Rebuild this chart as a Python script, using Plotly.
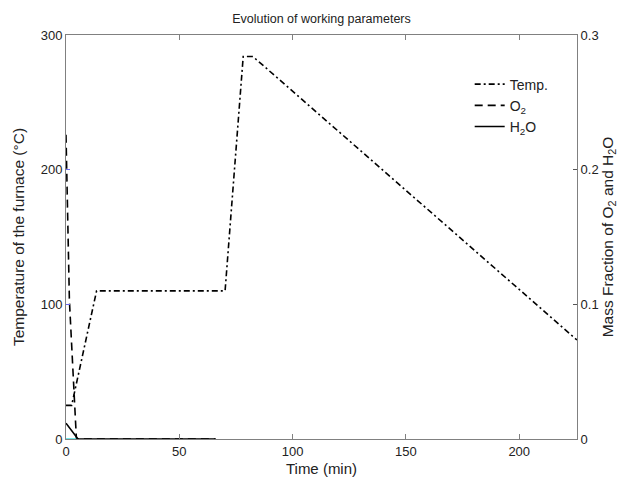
import plotly.graph_objects as go

# Temperature of the furnace (deg C) vs time (min)
temp_t = [0, 2.5, 13.5, 70.2, 78.2, 82.5, 225.5]
temp_v = [25, 25, 110, 110, 284, 284, 73.5]

# O2 mass fraction vs time (min)
o2_t = [0, 0.3, 0.6, 1.5, 3.0, 4.0, 4.6, 66]
o2_v = [0.226, 0.20, 0.168, 0.103, 0.053, 0.022, 0.0, 0.0]

# H2O mass fraction vs time (min)
h2o_t = [0, 5.3, 66]
h2o_v = [0.0117, 0.0, 0.0]

# small cyan trace lying on the time axis
cy_t = [0, 4.5]
cy_v = [0.0, 0.0]

x_ticks = [0, 50, 100, 150, 200]
y1_ticks = [0, 100, 200, 300]
y2_ticks = [0, 0.1, 0.2, 0.3]
y2_labels = ["0", "0.1", "0.2", "0.3"]

FONT = "Liberation Sans, Arial, sans-serif"
AX = "#808080"
TXT = "#222"

fig = go.Figure()
fig.add_trace(go.Scatter(x=temp_t, y=temp_v, mode="lines", name="Temp.",
                         line=dict(color="black", width=1.6, dash="6px,3px,2px,3px")))
fig.add_trace(go.Scatter(x=o2_t, y=o2_v, mode="lines", name="O<sub>2</sub>", yaxis="y2",
                         line=dict(color="black", width=1.6, dash="8px,5px")))
fig.add_trace(go.Scatter(x=h2o_t, y=h2o_v, mode="lines", name="H<sub>2</sub>O", yaxis="y2",
                         line=dict(color="black", width=1.6)))
fig.add_trace(go.Scatter(x=cy_t, y=cy_v, mode="lines", showlegend=False, yaxis="y2",
                         line=dict(color="#40e0e0", width=1.5)))

fig.update_layout(
    width=623, height=480,
    margin=dict(l=66, r=46, t=35, b=41, autoexpand=False),
    paper_bgcolor="white", plot_bgcolor="white",
    font=dict(family=FONT, size=13, color=TXT),
    title=dict(text="Evolution of working parameters", x=0.5, xanchor="center",
               xref="paper", y=0.962, yanchor="middle", font=dict(size=12.5, color=TXT)),
    xaxis=dict(range=[0, 225.5], tickvals=x_ticks, ticks="inside", ticklen=5,
               tickcolor=AX, showline=True, linecolor=AX, linewidth=1, mirror="ticks",
               showgrid=False, zeroline=False, automargin=False,
               title=dict(text="Time (min)", standoff=5, font=dict(size=15)),
               tickfont=dict(size=13)),
    yaxis=dict(range=[0, 300], tickvals=y1_ticks, ticks="inside", ticklen=4,
               tickcolor="#6a6af0", showline=True, linecolor=AX, linewidth=1,
               showgrid=False, zeroline=False, automargin=False,
               title=dict(text="Temperature of the furnace (°C)", standoff=12, font=dict(size=15.5)),
               tickfont=dict(size=13)),
    yaxis2=dict(range=[0, 0.3], tickvals=y2_ticks, ticktext=y2_labels, overlaying="y",
                side="right", ticks="inside", ticklen=4, tickcolor="#555",
                showline=True, linecolor=AX, linewidth=1,
                showgrid=False, zeroline=False, automargin=False,
                title=dict(text="Mass Fraction of O<sub>2</sub> and H<sub>2</sub>O",
                           standoff=0, font=dict(size=15.5)),
                tickfont=dict(size=13)),
    legend=dict(x=0.79, y=0.917, xanchor="left", yanchor="top",
                bgcolor="rgba(0,0,0,0)", borderwidth=0,
                font=dict(size=14), tracegroupgap=0),
    showlegend=True,
)

fig.write_html("out.html", config={"displayModeBar": False},
               post_script="document.body.style.margin='0';")
